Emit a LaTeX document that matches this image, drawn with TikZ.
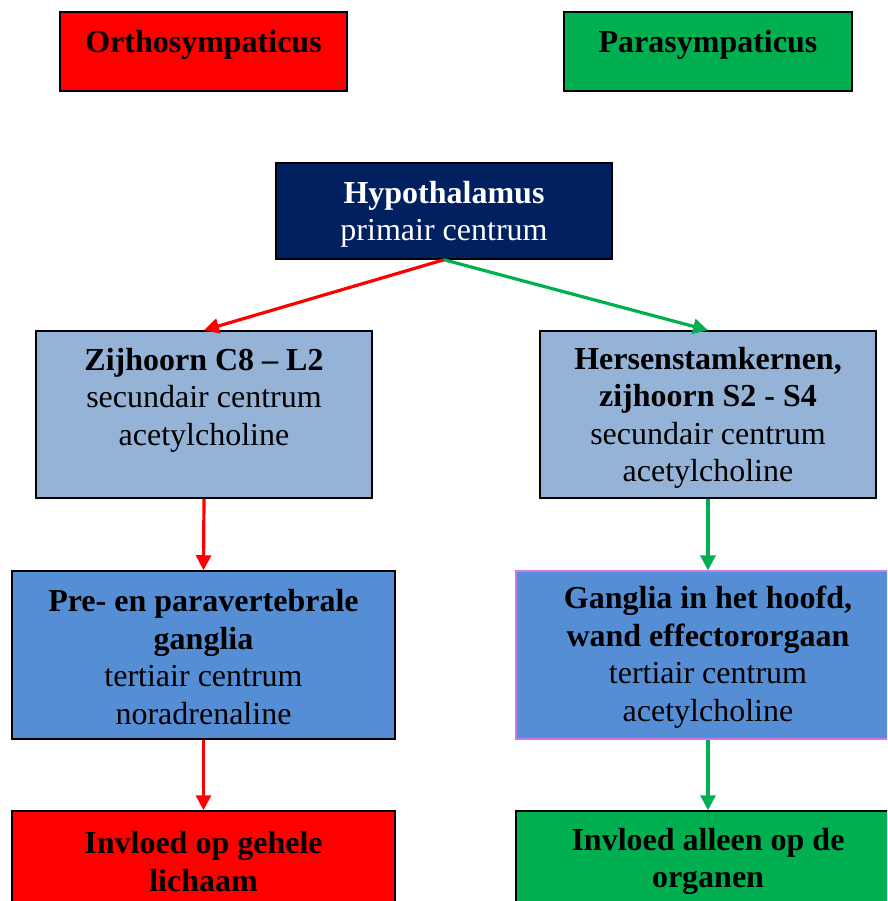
\documentclass[tikz,border=0pt]{standalone}
\usepackage{fontspec}
\setmainfont{Liberation Serif}
\usetikzlibrary{arrows.meta}
\definecolor{ortho}{HTML}{FF0000}
\definecolor{para}{HTML}{00B050}
\definecolor{navy}{HTML}{002060}
\definecolor{lightblue}{HTML}{95B3D7}
\definecolor{midblue}{HTML}{558ED5}
\definecolor{violetedge}{HTML}{CC77EE}
\tikzset{
  box/.style={draw=black, line width=1.5pt, rectangle, inner sep=0pt},
  label text/.style={align=center, inner sep=0pt, font=\fontsize{32}{37.5}\selectfont},
  conn/.style={line width=3.2pt, -{Triangle[length=15pt,width=15pt]}},
}
\begin{document}
\begin{tikzpicture}[x=1pt,y=-1pt]
\useasboundingbox (0,0) rectangle (887,901);
\clip (0,0) rectangle (887,901);

% header boxes
\node[box, fill=ortho, minimum width=287pt, minimum height=79pt] (orth) at (203.5,51.5) {};
\node[label text] (orthT) at (203.5,45) {\textbf{Orthosympaticus}};
\node[box, fill=para, minimum width=288pt, minimum height=79pt] (para) at (708,51.5) {};
\node[label text] (paraT) at (708,45) {\textbf{Parasympaticus}};

% primary centre
\node[box, fill=navy, minimum width=336pt, minimum height=96pt] (hyp) at (444,211) {};
\node[label text, text=white] (hypT) at (444,214.5) {\textbf{Hypothalamus}\\primair centrum};

% secondary centres
\node[box, fill=lightblue, minimum width=336pt, minimum height=167pt] (zij) at (204,414.5) {};
\node[label text] (zijT) at (204,400) {\textbf{Zijhoorn C8 – L2}\\secundair centrum\\acetylcholine};
\node[box, fill=lightblue, minimum width=336pt, minimum height=167pt] (hers) at (708,414.5) {};
\node[label text] (hersT) at (708,418) {\textbf{Hersenstamkernen,}\\\textbf{zijhoorn S2 - S4}\\secundair centrum\\acetylcholine};

% tertiary centres
\node[box, fill=midblue, minimum width=383pt, minimum height=168pt] (pre) at (203.5,655) {};
\node[label text] (preT) at (203.5,657) {\textbf{Pre- en paravertebrale}\\\textbf{ganglia}\\tertiair centrum\\noradrenaline};
\node[box, draw=violetedge, line width=1.2pt, fill=midblue, minimum width=384pt, minimum height=168pt] (gang) at (708,655) {};
\node[label text] (gangT) at (708,657) {\textbf{Ganglia in het hoofd,}\\\textbf{wand effectororgaan}\\tertiair centrum\\acetylcholine};

% effects
\node[box, fill=ortho, minimum width=383pt, minimum height=129pt] (inv1) at (203.5,875.5) {};
\node[label text] (inv1T) at (203.5,861.5) {\textbf{Invloed op gehele}\\\textbf{lichaam}};
\node[box, fill=para, minimum width=384pt, minimum height=129pt] (inv2) at (708,875.5) {};
\node[label text] (inv2T) at (708,861.5) {\textbf{Invloed alleen op de}\\\textbf{organen}};

% connectors
\draw[conn, ortho] (hyp.south) -- (zij.north);
\draw[conn, para] (hyp.south) -- (hers.north);
\draw[conn, ortho] (zij.south) -- (pre.north);
\draw[conn, para] (hers.south) -- (gang.north);
\draw[conn, ortho] (pre.south) -- (inv1.north);
\draw[conn, para] (gang.south) -- (inv2.north);
\end{tikzpicture}
\end{document}
